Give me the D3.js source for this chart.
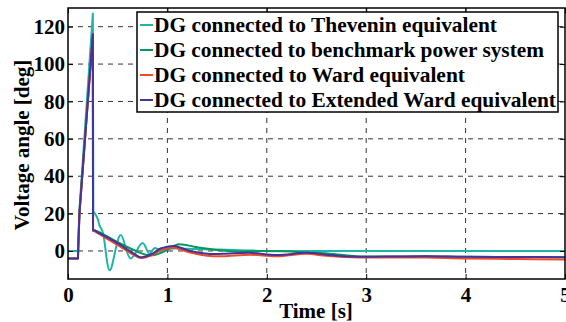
<!DOCTYPE html>
<html><head><meta charset="utf-8">
<script src="https://cdn.jsdelivr.net/npm/d3@7/dist/d3.min.js"></script>
<style>body{margin:0;background:#fff}svg{display:block}text{font-family:"Liberation Serif","Times New Roman",serif;font-weight:bold}</style>
</head><body><svg id="c" width="566" height="322"></svg>
<script>
const seriesNames = ["DG connected to Thevenin equivalent","DG connected to benchmark power system","DG connected to Ward equivalent","DG connected to Extended Ward equivalent"];
const seriesColors = ["#1fb5a6","#06975a","#ef4a2a","#46339a"];
const xTicks = [0,1,2,3,4,5];
const yTicks = [0,20,40,60,80,100,120];

const tThevenin = [0,0.1,0.115,0.25,0.255,0.265,0.3,0.315,0.35,0.42,0.53,0.63,0.75,0.82,0.87,0.93,1.0,1.1,1.2,1.5,1.8,2.0,3.0,4.0,5.0];
const vThevenin = [0,0,22,127,21,20.6,17,14,10,-10.3,8.5,-4,4.2,-1.5,1.5,0.5,1,1.5,1.2,0.8,0.3,0,0,0,0];

const tBenchmark = [0,0.1,0.115,0.25,0.252,0.27,0.33,0.48,0.65,0.78,0.87,0.99,1.1,1.3,1.5,1.7,1.9,2.17,2.4,2.67,2.9,3.2,3.6,4.0,4.5,5.0];
const vBenchmark = [-4,-4,20,116,11,11,9.7,5.2,0.8,-2,-2.2,0.3,3.5,2,0.5,-0.3,0,-0.2,-0.8,-1.6,-2.8,-3,-2.8,-3.1,-3.2,-3.3];

const tWard = [0,0.1,0.115,0.25,0.252,0.27,0.3,0.48,0.65,0.73,0.835,0.93,1.0,1.07,1.23,1.4,1.56,1.83,2.1,2.4,2.6,2.85,3.2,3.6,4.0,4.5,5.0];
const vWard = [-4,-4,20,116,11,10.5,9.5,3.8,-1.8,-3.8,-2.5,0.3,1.4,1.7,-0.8,-2.5,-2.8,-2,-2.8,-1.5,-2.6,-3.4,-3.5,-3.5,-4,-4.3,-4.5];

const tExtWard = [0,0.1,0.115,0.25,0.252,0.27,0.3,0.48,0.65,0.73,0.835,0.93,1.0,1.07,1.23,1.4,1.56,1.83,2.1,2.4,2.6,2.85,3.2,3.6,4.0,4.5,5.0];
const vExtWard = [-4,-4,20,116,11,11,10,4.7,-1,-3.3,-1.9,1.3,2.3,2.6,0,-1.5,-1.5,-1,-2.2,-1,-2,-3,-3,-2.8,-3.1,-3.2,-3.3];

// index of the last point of the straight fault/spike segment in each series
const spikeEnd = [5,5,5,5];

const seriesT = [tThevenin,tBenchmark,tWard,tExtWard];
const seriesV = [vThevenin,vBenchmark,vWard,vExtWard];

const L=68,R=565,T=8,B=279;
const x = d3.scaleLinear().domain([0,5]).range([L,R]);
const y = d3.scaleLinear().domain([-15,130]).range([B,T]);
const svg = d3.select("#c");
const FS = "21px";

// grid
const g = svg.append("g");
g.selectAll(".gx").data(xTicks.slice(1,-1)).join("line")
  .attr("x1",d=>x(d)).attr("x2",d=>x(d)).attr("y1",T).attr("y2",B)
  .attr("stroke","#333").attr("stroke-width",1).attr("stroke-dasharray","5,5");
g.selectAll(".gy").data(yTicks).join("line")
  .attr("y1",d=>y(d)).attr("y2",d=>y(d)).attr("x1",L).attr("x2",R)
  .attr("stroke","#333").attr("stroke-width",1).attr("stroke-dasharray","5,5");

// lines: straight through the fault spike, smooth afterwards
const lineLin = d3.line();
const lineSmooth = d3.line().curve(d3.curveCatmullRom.alpha(0.5));
seriesT.forEach((ts,i)=>{
  const pts = ts.map((t,j)=>[x(t),y(seriesV[i][j])]);
  const k = spikeEnd[i];
  const d = lineLin(pts.slice(0,k+1)) + "L" + lineSmooth(pts.slice(k)).slice(1);
  svg.append("path").attr("d",d).attr("fill","none")
    .attr("stroke",seriesColors[i]).attr("stroke-width",2).attr("stroke-linejoin","round");
});

// axes
const xa = svg.append("g").attr("transform",`translate(0,${B})`)
  .call(d3.axisBottom(x).tickValues(xTicks).tickSize(-5).tickPadding(8).tickFormat(d3.format("d")));
const xt = svg.append("g").attr("transform",`translate(0,${T})`)
  .call(d3.axisTop(x).tickValues(xTicks).tickSize(-5).tickFormat(""));
const ya = svg.append("g").attr("transform",`translate(${L},0)`)
  .call(d3.axisLeft(y).tickValues(yTicks).tickSize(-5).tickPadding(3).tickFormat(d3.format("d")));
const yr = svg.append("g").attr("transform",`translate(${R},0)`)
  .call(d3.axisRight(y).tickValues(yTicks).tickSize(-5).tickFormat(""));
[xa,xt,ya,yr].forEach(a=>{
  a.selectAll(".domain").remove();
  a.selectAll("line").attr("stroke","#000").attr("stroke-width",1);
  a.selectAll("text").attr("fill","#000").style("font-size",FS)
   .style("font-family","'Liberation Serif','Times New Roman',serif").style("font-weight","bold");
});
svg.append("rect").attr("x",L).attr("y",T).attr("width",R-L).attr("height",B-T)
  .attr("fill","none").attr("stroke","#000").attr("stroke-width",1.5);

svg.append("text").attr("x",316).attr("y",318).attr("text-anchor","middle")
  .style("font-size",FS).text("Time [s]");
svg.append("text").attr("transform","translate(29,145) rotate(-90)").attr("text-anchor","middle")
  .style("font-size",FS).text("Voltage angle [deg]");

// legend
const legendTextWidths = [343,390,311,402];
const lg = svg.append("g");
lg.append("rect").attr("x",137).attr("y",12).attr("width",421).attr("height",100)
  .attr("fill","#fff").attr("stroke","#000").attr("stroke-width",1.5);
seriesNames.forEach((n,i)=>{
  const cy = 25 + i*25;
  lg.append("line").attr("x1",140).attr("x2",153).attr("y1",cy).attr("y2",cy)
    .attr("stroke",seriesColors[i]).attr("stroke-width",2);
  lg.append("text").attr("x",154).attr("y",cy+7).style("font-size","21.5px")
    .attr("textLength",legendTextWidths[i]).attr("lengthAdjust","spacingAndGlyphs").text(n);
});
</script></body></html>
